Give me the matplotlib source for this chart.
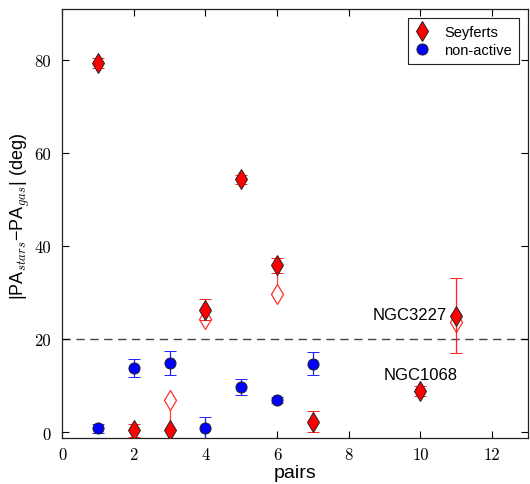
import matplotlib
matplotlib.use('Agg')
import matplotlib.pyplot as plt

plt.rcParams['font.family'] = ['Liberation Sans', 'DejaVu Sans']
plt.rcParams['mathtext.fontset'] = 'custom'
plt.rcParams['mathtext.rm'] = 'Liberation Sans'
plt.rcParams['mathtext.it'] = 'cmmi10'

# Seyferts (filled)
sey_x = [1, 2, 3, 4, 5, 6, 7, 10, 11]
sey_y = [79.4, 0.4, 0.4, 26.4, 54.4, 35.9, 2.3, 8.9, 25.1]
sey_err = [1.0, 1.4, 0.0, 2.2, 1.0, 1.7, 2.3, 1.0, 8.0]

# open diamonds (alternate gas PA)
open_x = [3, 4, 6, 11]
open_y = [6.9, 24.3, 29.8, 23.8]
open_from = [0.4, 26.4, 34.2, 25.1]

# non-active
non_x = [1, 2, 3, 4, 5, 6, 7]
non_y = [0.9, 13.8, 14.9, 0.9, 9.8, 6.9, 14.8]
non_err = [1.0, 1.9, 2.5, 2.4, 1.7, 0.6, 2.5]

fig = plt.figure(figsize=(5.3, 4.85), dpi=100)
ax = fig.add_axes([0.117, 0.095, 0.879, 0.884])

ax.axhline(20, color='#444444', ls=(0, (6, 4)), lw=1.0, zorder=1)

for x, y0, y1 in zip(open_x, open_from, open_y):
    ax.plot([x, x], [y0, y1], color='#ff4040', lw=0.9, zorder=2)

ax.plot(open_x, open_y, 'd', ms=10, mfc='white', mec='#ff3030', mew=0.9, ls='none', zorder=3)

ax.errorbar(non_x, non_y, yerr=non_err, fmt='o', ms=8, mfc='#0000ff', mec='#222222',
            mew=0.7, ecolor='#2020ff', elinewidth=0.9, capsize=4, capthick=0.9,
            zorder=4, label='non-active')
ax.errorbar(sey_x, sey_y, yerr=sey_err, fmt='d', ms=10, mfc='#ff0000', mec='#222222',
            mew=0.7, ecolor='#ff2020', elinewidth=0.9, capsize=4, capthick=0.9,
            zorder=5, label='Seyferts')

ax.text(10.75, 25.3, 'NGC3227', ha='right', va='center', fontsize=12)
ax.text(10.0, 12.5, 'NGC1068', ha='center', va='center', fontsize=12)

ax.set_xlim(0, 13)
ax.set_ylim(-1.2, 91)
ax.set_xticks([0, 2, 4, 6, 8, 10, 12])
ax.set_yticks([0, 20, 40, 60, 80])
ax.tick_params(direction='in', top=True, right=True, length=5, width=0.8, labelsize=12)
ax.tick_params(axis='y', pad=8)
ax.tick_params(axis='x', pad=6)
for lab in ax.get_xticklabels() + ax.get_yticklabels():
    lab.set_fontfamily('cmr10')
for s in ax.spines.values():
    s.set_linewidth(0.9)
    s.set_color('#222222')

ax.set_xlabel('pairs', fontsize=14, labelpad=2)
ax.set_ylabel(r'|PA$_{stars}$$-$PA$_{gas}$| (deg)', fontsize=13)
ax.yaxis.set_label_coords(-0.064, 0.52)

h, l = ax.get_legend_handles_labels()
leg = ax.legend([x[0] for x in h[::-1]], l[::-1], loc='upper right', fontsize=10.5,
                fancybox=False, edgecolor='#222222', framealpha=1, borderaxespad=0.6,
                handlelength=1.0, handletextpad=1.0, borderpad=0.5, labelspacing=0.25)
leg.get_frame().set_linewidth(0.8)

fig.savefig('out.png', dpi=100)
